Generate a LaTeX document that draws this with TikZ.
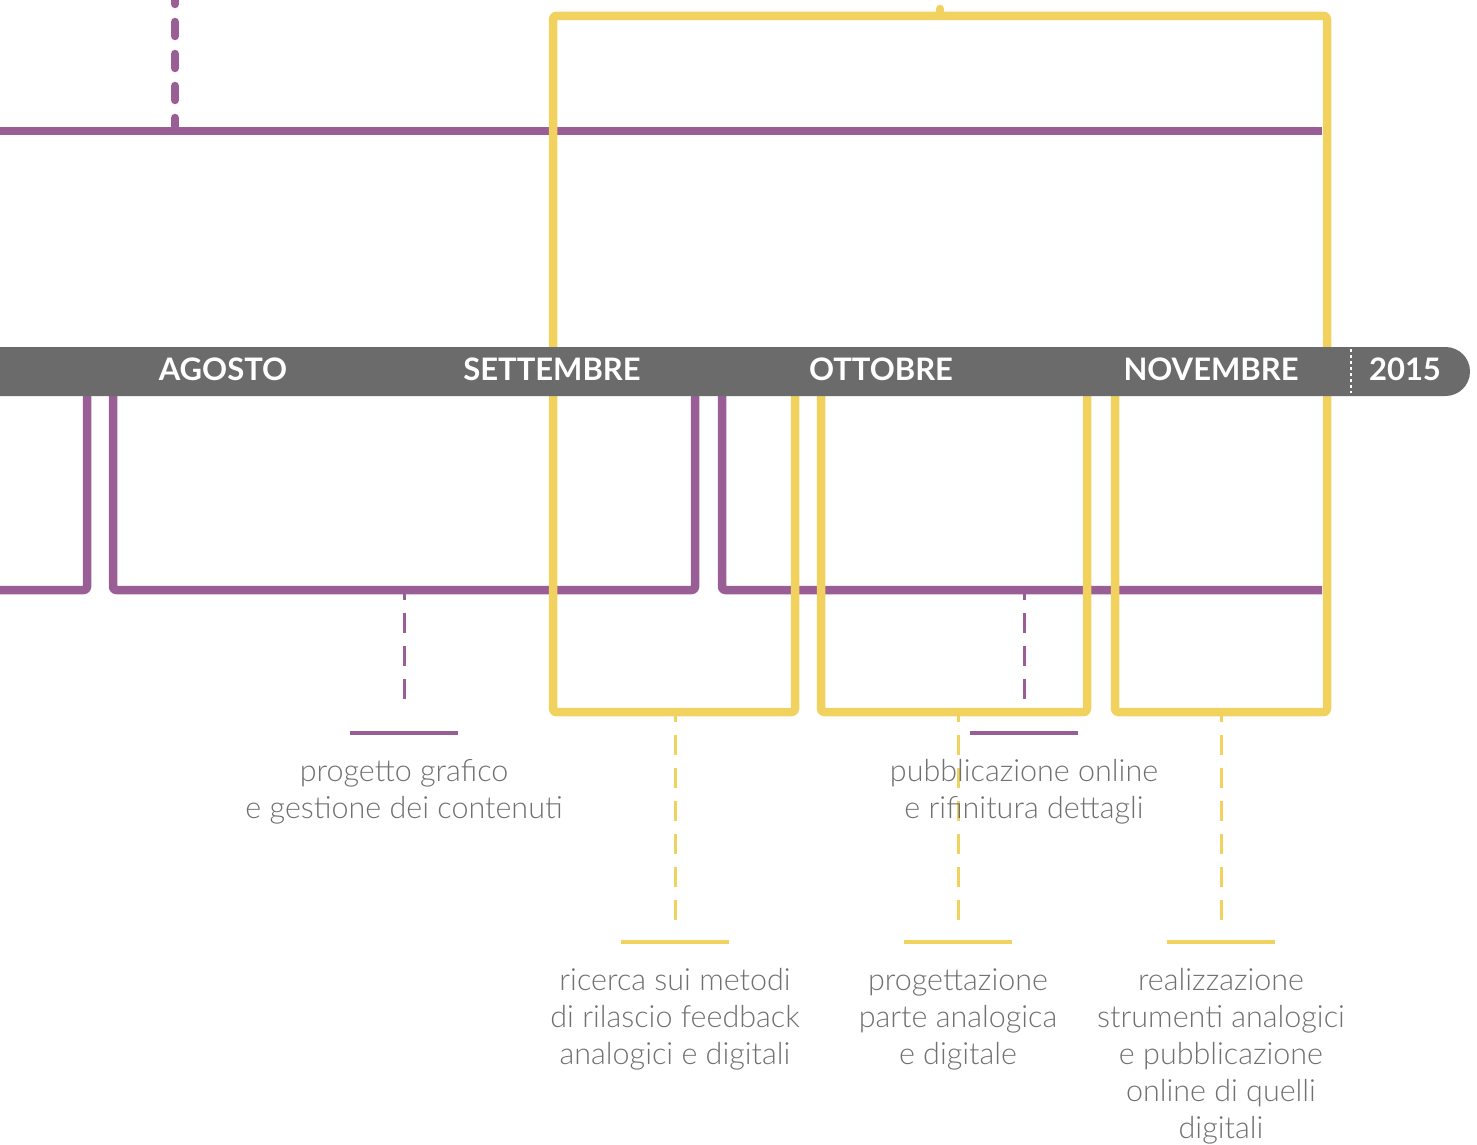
\documentclass[tikz,border=0pt]{standalone}
\usepackage{fontspec}
\setmainfont{Lato}
\newfontfamily\lightfont{Lato Light}
\definecolor{plum}{HTML}{995E96}
\definecolor{sun}{HTML}{F2D25E}
\definecolor{barcol}{HTML}{6B6B6B}
\definecolor{notecol}{HTML}{707070}
\begin{document}
\begin{tikzpicture}[x=1pt,y=-1pt,
  plumline/.style={draw=plum,line width=8.5pt,line join=round,rounded corners=3pt},
  sunline/.style={draw=sun,line width=8.5pt,line join=round,rounded corners=3pt},
  plumbigdash/.style={draw=plum,line width=8.5pt,line cap=round,dash pattern=on 14pt off 18pt},
  plumdash/.style={draw=plum,line width=3pt,dash pattern=on 20pt off 13pt},
  sundash/.style={draw=sun,line width=3pt,dash pattern=on 20pt off 13pt},
  plumtick/.style={draw=plum,line width=4pt},
  suntick/.style={draw=sun,line width=4pt},
  month/.style={text=white,inner sep=0,font=\bfseries\fontsize{31}{38}\selectfont},
  note/.style={text=notecol,align=center,inner sep=0,anchor=base,font=\lightfont\fontsize{30.5}{37}\selectfont}]
\useasboundingbox (0,0) rectangle (1477,1145);

% purple phases
\draw[plumline] (0,131) -- (1322,131);
\draw[plumbigdash] (175,-10) -- (175,127);
\draw[plumline] (0,590) -- (87,590) -- (87,380);
\draw[plumline] (113,380) -- (113,590) -- (695,590) -- (695,380);
\draw[plumline] (722,380) -- (722,590) -- (1322,590);

% yellow phases
\draw[sunline] (795,380) -- (795,712) -- (553,712) -- (553,16) -- (1327,16) -- (1327,712) -- (1115,712) -- (1115,380);
\draw[sunline] (821,380) -- (821,712) -- (1087,712) -- (1087,380);
\draw[draw=sun,line width=8.5pt,line cap=round] (940,16) -- (940,9);

% leaders to the notes (they stop short of the tick bars)
\coordinate (pa) at (404,594);  \coordinate (pat) at (404,733);
\coordinate (pb) at (1024,594); \coordinate (pbt) at (1024,733);
\coordinate (sa) at (675,716);  \coordinate (sat) at (675,942);
\coordinate (sb) at (958,716);  \coordinate (sbt) at (958,942);
\coordinate (sc) at (1221,716); \coordinate (sct) at (1221,942);
\draw[plumdash,dash phase=14pt] (pa) -- ([yshift=23pt]pat);
\draw[plumdash,dash phase=14pt] (pb) -- ([yshift=23pt]pbt);
\draw[sundash,dash phase=14pt] (sa) -- ([yshift=22pt]sat);
\draw[sundash,dash phase=14pt] (sb) -- ([yshift=22pt]sbt);
\draw[sundash,dash phase=14pt] (sc) -- ([yshift=22pt]sct);
\draw[plumtick] ([xshift=-54pt]pat) -- ([xshift=54pt]pat);
\draw[plumtick] ([xshift=-54pt]pbt) -- ([xshift=54pt]pbt);
\draw[suntick] ([xshift=-54pt]sat) -- ([xshift=54pt]sat);
\draw[suntick] ([xshift=-54pt]sbt) -- ([xshift=54pt]sbt);
\draw[suntick] ([xshift=-54pt]sct) -- ([xshift=54pt]sct);

% timeline bar
\fill[barcol,rounded corners=24.5pt] (-60,347) rectangle (1470,396);
\draw[white,line width=1.5pt,dash pattern=on 3pt off 3pt] (1351,349) -- (1351,393);
\node[month] (ago) at (223,369) {AGOSTO};
\node[month] (set) at (552,369) {SETTEMBRE};
\node[month] (ott) at (881,369) {OTTOBRE};
\node[month] (nov) at (1211,369) {NOVEMBRE};
\node[month] (yr) at (1405,369) {2015};

% notes (placed by the baseline of their last line)
\node[note] (na) at (404,818) {progetto grafico\\e gestione dei contenuti};
\node[note] (nb) at (1024,818) {pubblicazione online\\e rifinitura dettagli};
\node[note] (nc) at (675,1064) {ricerca sui metodi\\di rilascio feedback\\analogici e digitali};
\node[note] (nd) at (958,1064) {progettazione\\parte analogica\\e digitale};
\node[note] (ne) at (1221,1138) {realizzazione\\strumenti analogici\\e pubblicazione\\online di quelli\\digitali};
\end{tikzpicture}
\end{document}
